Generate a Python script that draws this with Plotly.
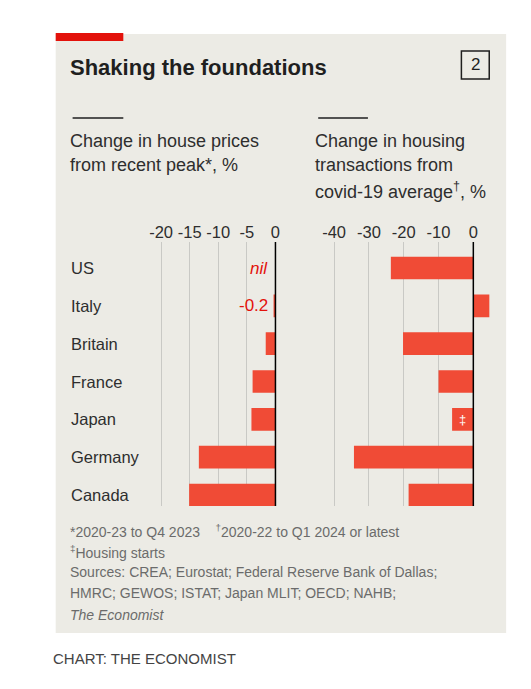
import plotly.graph_objects as go

W, H = 531, 689

countries = ["US", "Italy", "Britain", "France", "Japan", "Germany", "Canada"]
house_prices = [0, -0.2, -1.7, -4.0, -4.2, -13.4, -15.1]
price_labels = ["nil", "-0.2", None, None, None, None, None]
transactions = [-23.7, 4.6, -20.2, -10.0, -6.1, -34.3, -18.6]
trans_marks = [None, None, None, None, "‡", None, None]
left_ticks = [-20, -15, -10, -5, 0]
right_ticks = [-40, -30, -20, -10, 0]

BAR = "#f04b36"
RED = "#e3120b"
BG = "#ecebe5"
DARK = "#1f1f1f"
TXT = "#2e2e2e"
GREY = "#6b6b6b"
GRID = "#c9c9c5"
FONT = "Liberation Sans, Arial, sans-serif"


def px(x):
    return x / W


def py(y):
    return 1 - y / H


fig = go.Figure()
fig.add_trace(go.Bar(y=countries, x=house_prices, orientation="h",
                     marker=dict(color=BAR, line=dict(width=0)), width=0.6,
                     xaxis="x", yaxis="y", hoverinfo="x+y"))
fig.add_trace(go.Bar(y=countries, x=transactions, orientation="h",
                     marker=dict(color=BAR, line=dict(width=0)), width=0.6,
                     xaxis="x2", yaxis="y2", hoverinfo="x+y"))

ydom = [py(506), py(242)]
yrange = [6.29, -0.687]

common_x = dict(side="top", showgrid=True, gridcolor=GRID, gridwidth=1,
                zeroline=False, showline=False, ticks="", ticklen=0,
                tickfont=dict(family=FONT, size=16.5, color=TXT), fixedrange=True)

fig.update_layout(
    width=W, height=H,
    margin=dict(l=0, r=0, t=0, b=0),
    paper_bgcolor="white", plot_bgcolor="rgba(0,0,0,0)",
    showlegend=False, bargap=0.4,
    font=dict(family=FONT, color=TXT),
    xaxis=dict(domain=[px(150.4), px(279.75)], range=[-21.5, 1.0],
               tickvals=left_ticks, ticktext=[str(v) for v in left_ticks],
               anchor="y", **common_x),
    xaxis2=dict(domain=[px(324.25), px(490.5)], range=[-42.5, 5.0],
                tickvals=right_ticks, ticktext=[str(v) for v in right_ticks],
                anchor="y2", **common_x),
    yaxis=dict(domain=ydom, range=yrange, type="category",
               showticklabels=False, showgrid=False, zeroline=False,
               anchor="x", fixedrange=True),
    yaxis2=dict(domain=ydom, range=yrange, type="category",
                showticklabels=False, showgrid=False, zeroline=False,
                anchor="x2", fixedrange=True),
)

shapes = [
    # panel background
    dict(type="rect", xref="paper", yref="paper", x0=px(53), x1=px(506),
         y0=py(633), y1=py(34), fillcolor=BG, line=dict(width=0), layer="below"),
    # red tag
    dict(type="rect", xref="paper", yref="paper", x0=px(53), x1=px(121),
         y0=py(41), y1=py(33), fillcolor=RED, line=dict(width=0)),
    # chart number box
    dict(type="rect", xref="paper", yref="paper", x0=px(461), x1=px(489),
         y0=py(79), y1=py(51), line=dict(color=DARK, width=1.5)),
    # subtitle rules
    dict(type="line", xref="paper", yref="paper", x0=px(70), x1=px(121),
         y0=py(118), y1=py(118), line=dict(color=DARK, width=1.5)),
    dict(type="line", xref="paper", yref="paper", x0=px(317), x1=px(367),
         y0=py(118), y1=py(118), line=dict(color=DARK, width=1.5)),
    # zero lines on top of bars
    dict(type="line", xref="x", yref="paper", x0=0, x1=0,
         y0=ydom[0], y1=ydom[1], line=dict(color="black", width=1.5), layer="above"),
    dict(type="line", xref="x2", yref="paper", x0=0, x1=0,
         y0=ydom[0], y1=ydom[1], line=dict(color="black", width=1.5), layer="above"),
]

ann = []


def note(text, x, y, size, color=TXT, xanchor="left", **kw):
    ann.append(dict(text=text, x=px(x), y=py(y), xref="paper", yref="paper",
                    xanchor=xanchor, yanchor="middle", showarrow=False,
                    font=dict(family=FONT, size=size, color=color), **kw))


note("<b>Shaking the foundations</b>", 65, 68, 22, color=DARK)
note("2", 475, 65, 17, color=DARK, xanchor="center")
note("Change in house prices", 65, 141, 18)
note("from recent peak*, %", 65, 165, 18)
note("Change in housing", 312, 141, 18)
note("transactions from", 312, 165, 18)
note("covid-19 average<sup>†</sup>, %", 312, 190, 18)

# country labels
for c in countries:
    ann.append(dict(text=c, x=px(66), y=c, xref="paper", yref="y",
                    xanchor="left", yanchor="middle", showarrow=False,
                    font=dict(family=FONT, size=16.5, color=TXT)))

# value labels on left chart
for c, lab in zip(countries, price_labels):
    if lab:
        ital = lab == "nil"
        ann.append(dict(text=f"<i>{lab}</i>" if ital else lab, x=0, y=c,
                        xref="x", yref="y", xanchor="right", yanchor="middle",
                        xshift=-5, showarrow=False,
                        font=dict(family=FONT, size=17, color=RED)))

# marker inside bars on right chart
for c, v, m in zip(countries, transactions, trans_marks):
    if m:
        ann.append(dict(text=m, x=v / 2, y=c, xref="x2", yref="y2",
                        xanchor="center", yanchor="middle", showarrow=False,
                        font=dict(family=FONT, size=13, color="white")))

note("*2020-23 to Q4 2023    <sup>†</sup>2020-22 to Q1 2024 or latest", 65, 531, 14, color=GREY)
note("<sup>‡</sup>Housing starts", 65, 552, 14, color=GREY)
note("Sources: CREA; Eurostat; Federal Reserve Bank of Dallas;", 65, 572, 14, color=GREY)
note("HMRC; GEWOS; ISTAT; Japan MLIT; OECD; NAHB;", 65, 593, 14, color=GREY)
note("<i>The Economist</i>", 65, 615, 14, color=GREY)
note("CHART: THE ECONOMIST", 48, 658, 15, color="#444444")

fig.update_layout(shapes=shapes, annotations=ann)
fig.write_html("out.html", config={"displayModeBar": False},
               post_script="document.body.style.margin='0';")
